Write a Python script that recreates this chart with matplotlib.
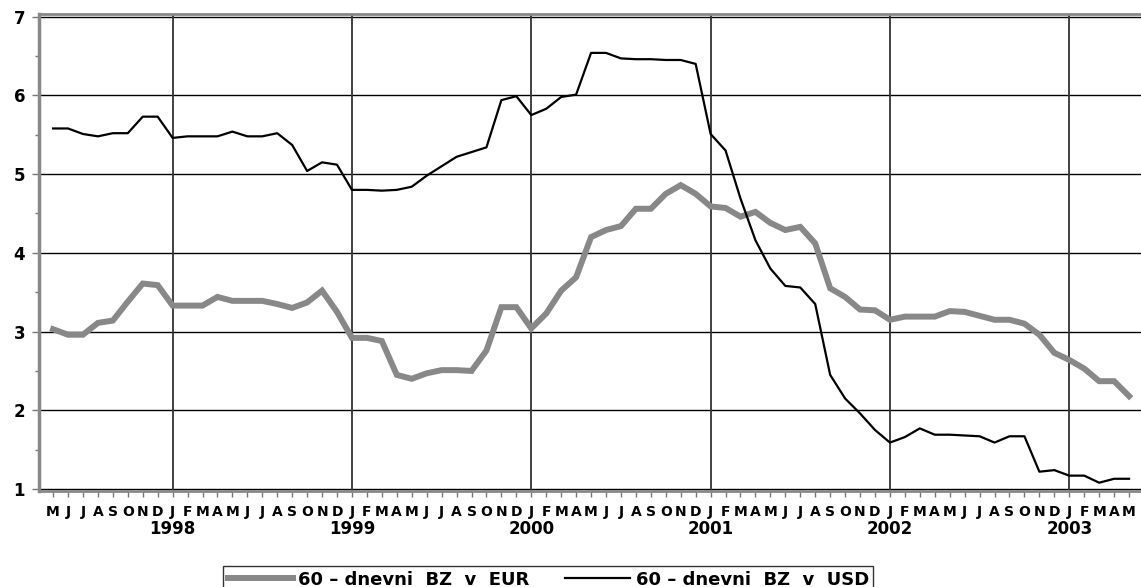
import numpy as np
import matplotlib
matplotlib.use("Agg")
import matplotlib.pyplot as plt
import matplotlib.transforms as mtransforms

plt.rcParams['font.family'] = ['DejaVu Sans']
plt.rcParams['font.weight'] = 'bold'

# monthly data, May 1997 - May 2003
month_letters = ["J", "F", "M", "A", "M", "J", "J", "A", "S", "O", "N", "D"]
first_month = 4          # May (0 = January)
years = ["1998", "1999", "2000", "2001", "2002", "2003"]

eur = [3.03, 2.96, 2.96, 3.11, 3.14, 3.38, 3.61, 3.59, 3.33, 3.33,
       3.33, 3.44, 3.39, 3.39, 3.39, 3.35, 3.30, 3.37, 3.52, 3.25,
       2.92, 2.92, 2.88, 2.45, 2.40, 2.47, 2.51, 2.51, 2.50, 2.76,
       3.31, 3.31, 3.04, 3.23, 3.52, 3.69, 4.20, 4.29, 4.34, 4.56,
       4.56, 4.75, 4.86, 4.75, 4.59, 4.57, 4.46, 4.52, 4.38, 4.29,
       4.33, 4.12, 3.55, 3.44, 3.28, 3.27, 3.15, 3.19, 3.19, 3.19,
       3.26, 3.25, 3.20, 3.15, 3.15, 3.10, 2.96, 2.73, 2.64, 2.53,
       2.37, 2.37, 2.18]

usd = [5.58, 5.58, 5.51, 5.48, 5.52, 5.52, 5.73, 5.73, 5.46, 5.48,
       5.48, 5.48, 5.54, 5.48, 5.48, 5.52, 5.37, 5.04, 5.15, 5.12,
       4.80, 4.80, 4.79, 4.80, 4.84, 4.98, 5.10, 5.22, 5.28, 5.34,
       5.94, 5.99, 5.75, 5.83, 5.98, 6.01, 6.54, 6.54, 6.47, 6.46,
       6.46, 6.45, 6.45, 6.40, 5.51, 5.30, 4.69, 4.16, 3.80, 3.58,
       3.56, 3.35, 2.45, 2.15, 1.96, 1.75, 1.59, 1.66, 1.77, 1.69,
       1.69, 1.68, 1.67, 1.59, 1.67, 1.67, 1.22, 1.24, 1.17, 1.17,
       1.08, 1.13, 1.13]

n = len(eur)
x = np.arange(n)
labels = [month_letters[(first_month + i) % 12] for i in range(n)]
jan_pos = [i for i in range(n) if (first_month + i) % 12 == 0]

fig = plt.figure(figsize=(11.41, 5.87), dpi=100)
ax = fig.add_axes([0.0342, 0.1629, 0.9658, 0.8127])

ax.plot(x, eur, color="#888888", lw=4.3, solid_joinstyle="miter",
        label="60 – dnevni  BZ  v  EUR", zorder=3)
ax.plot(x, usd, color="black", lw=1.6, label="60 – dnevni  BZ  v  USD", zorder=4)

ax.set_xlim(-0.94, 72.8)
ax.set_ylim(0.97, 7.03)

# grid
for yv in range(1, 8):
    ax.axhline(yv, color="black", lw=1.0, zorder=1)
for jp in jan_pos:
    ax.axvline(jp, color="#333333", lw=1.3, zorder=1)

ax.set_yticks(range(1, 8))
ax.set_yticks(np.arange(1.5, 7, 1.0), minor=True)
ax.tick_params(axis="y", which="major", length=5, width=1, color="#777777",
               labelsize=12, pad=5)
ax.tick_params(axis="y", which="minor", length=3, width=1, color="#777777")

ax.set_xticks(x)
ax.set_xticklabels(labels)
ax.tick_params(axis="x", which="major", length=4, width=1, color="#777777",
               labelsize=10, pad=6)

trans = mtransforms.blended_transform_factory(ax.transData, fig.transFigure)
for jp, yr in zip(jan_pos, years):
    ax.text(jp, 1 - 529 / 587, yr, transform=trans, ha="center", va="center",
            fontsize=12, fontweight="bold", clip_on=False)

for s in ["left", "bottom", "top"]:
    ax.spines[s].set_color("#888888")
ax.spines["left"].set_linewidth(2.5)
ax.spines["bottom"].set_linewidth(2.0)
ax.spines["top"].set_linewidth(2.0)
ax.spines["right"].set_visible(False)

leg = fig.legend(loc="upper left", bbox_to_anchor=(223 / 1141, 1 - 566 / 587),
                 ncol=2, frameon=True, fancybox=False, edgecolor="black",
                 fontsize=13, handlelength=3.6, handletextpad=0.3,
                 columnspacing=2.0, borderpad=0.25, borderaxespad=0)
leg.get_frame().set_linewidth(1.0)

fig.savefig("out.png", dpi=100)
